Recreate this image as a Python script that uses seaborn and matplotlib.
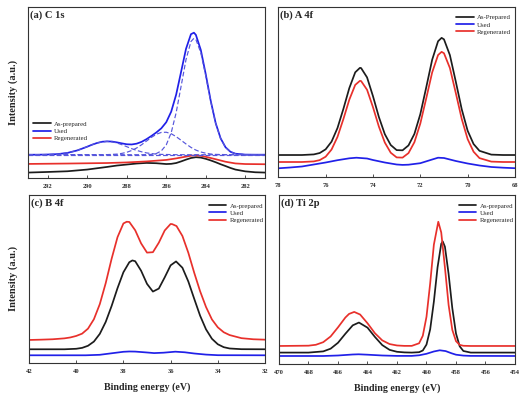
import matplotlib
matplotlib.use("Agg")
import matplotlib.pyplot as plt
import seaborn as sns

# ==========================================
# data (heights in a.u.)
# ==========================================
# (a) C 1s
c1s_x = [293, 292.5, 292, 291.5, 291, 290.5, 290, 289.75, 289.5, 289.25, 289, 288.75, 288.5,
         288.25, 288, 287.75, 287.5, 287.25, 287, 286.75, 286.5, 286.25, 286, 285.75, 285.5,
         285.25, 285, 284.75, 284.6, 284.5, 284.25, 284, 283.75, 283.5, 283.25, 283, 282.75,
         282.5, 282, 281.5, 281]
c1s_used = [23.5, 23.5, 23.7, 24.1, 25.3, 27.8, 31.5, 33.5, 35.2, 36.4, 36.8, 36.6, 35.8,
            34.8, 33.9, 33.7, 34.5, 36.3, 39.0, 42.2, 45.7, 49.8, 55.9, 66.4, 83.3,
            106.0, 129.0, 143.6, 145.1, 142.9, 127.8, 103.6, 77.3, 55.1, 39.9, 30.9, 26.4,
            24.5, 23.6, 23.5, 23.5]
c1s_fit_cc = [0, 0, 0, 0, 0, 0, 0, 0, 0, 0, 0, 0, 0, 0, 0, 0, 0, 0,
              0.1, 0.3, 1.2, 3.8, 9.8, 21.9, 41.8, 68.1, 94.8, 112.8, 116, 114.8, 101.6,
              78.6, 53.1, 31.3, 16.2, 7.3, 2.9, 1.0, 0.1, 0, 0]
c1s_fit_co = [0, 0, 0, 0, 0, 0, 0, 0, 0, 0.1, 0.1, 0.3, 0.6, 1.3, 2.4, 4.2, 6.7, 9.9, 13.6,
              17.3, 20.4, 22.2, 22.4, 20.9, 18.0, 14.4, 10.7, 7.3, 5.6, 4.6, 2.7, 1.5, 0.7,
              0.3, 0.2, 0.1, 0, 0, 0, 0, 0]
c1s_fit_oco = [0, 0, 0.2, 0.6, 1.8, 4.3, 8.0, 10.0, 11.7, 12.8, 13.2, 12.8, 11.7, 10.0, 8.0,
               6.0, 4.3, 2.9, 1.8, 1.1, 0.6, 0.3, 0.2, 0.1, 0, 0, 0, 0, 0, 0, 0, 0, 0, 0,
               0, 0, 0, 0, 0, 0, 0]
c1s_base_x = [293, 281]
c1s_base_y = [23.5, 23.5]

c1s_prep_x = [293, 292, 291, 290, 289.5, 289, 288.5, 288, 287.5, 287, 286.5, 286, 285.75,
              285.5, 285.25, 285, 284.75, 284.5, 284.25, 284, 283.75, 283.5, 283.25, 283,
              282.75, 282.5, 282, 281.5, 281]
c1s_prep = [5.7, 6.3, 7.0, 8.7, 10.0, 11.3, 12.7, 13.7, 14.7, 15.3, 15.0, 14.2, 14.4,
            15.2, 16.8, 18.6, 20.2, 21.0, 20.6, 19.4, 17.8, 16.0, 14.0, 12.2,
            10.3, 8.7, 6.9, 6.0, 5.7]
c1s_regen_x = [293, 291, 289, 288, 287, 286, 285.5, 285, 284.75, 284.5, 284.25, 284, 283.5,
               283, 282.5, 282, 281]
c1s_regen = [14.3, 14.7, 15.2, 15.8, 16.8, 18.3, 19.8, 21.6, 22.5, 22.8, 22.4, 21.4, 19.0,
             16.5, 14.8, 14.2, 14.0]

# (b) A 4f
a4f_x = [78, 77.5, 77, 76.5, 76.25, 76, 75.75, 75.5, 75.25, 75, 74.75, 74.55, 74.5, 74.25,
         74, 73.75, 73.5, 73.25, 73, 72.75, 72.5, 72.25, 72, 71.75, 71.5, 71.25, 71.1, 71,
         70.75, 70.5, 70.25, 70, 69.75, 69.5, 69, 68.5, 68]
a4f_prep = [22.5, 22.5, 22.5, 23.1, 24.5, 28.2, 35.9, 49.5, 68.7, 89.5, 105.3, 109.8, 109.5,
            100.2, 81.4, 60.5, 43.4, 32.5, 27.4, 27.2, 32.1, 43.6, 63.4, 90.2, 117.8, 136.4,
            139.8, 138.3, 122.5, 95.9, 68.3, 46.8, 33.5, 26.7, 22.9, 22.5, 22.5]
a4f_regen = [15.5, 15.5, 15.5, 16.1, 17.4, 20.8, 28.0, 40.6, 58.5, 77.9, 92.7, 96.8, 96.5,
             87.8, 70.4, 50.9, 35.0, 24.8, 20.1, 19.9, 24.4, 35.3, 54.0, 79.2, 105.1, 122.6,
             125.8, 124.4, 109.6, 84.5, 58.6, 38.4, 25.8, 19.4, 15.9, 15.5, 15.5]
a4f_used_x = [78, 77.5, 77, 76.5, 76, 75.5, 75, 74.7, 74.25, 74, 73.5, 73, 72.75, 72.5, 72,
              71.5, 71.25, 71, 70.5, 70, 69.5, 69, 68.5, 68]
a4f_used = [9.2, 10.0, 11.0, 13.0, 15.0, 17.3, 19.2, 19.8, 19.0, 17.5, 15.0, 13.0, 12.6, 12.8,
            14.3, 18.0, 19.8, 19.5, 16.5, 14.0, 12.0, 10.5, 9.8, 9.3]

# (c) B 4f
b4f_regen_x = [42, 41.5, 41, 40.5, 40.25, 40, 39.75, 39.5, 39.25, 39, 38.75, 38.5, 38.25, 38,
               37.86, 37.75, 37.5, 37.25, 37, 36.75, 36.5, 36.25, 36, 35.93, 35.75, 35.5,
               35.25, 35, 34.75, 34.5, 34.25, 34, 33.75, 33.5, 33, 32.5, 32]
b4f_regen = [23.3, 23.6, 24.0, 24.9, 25.8, 27.3, 29.6, 34.6, 44.0, 59.1, 80.0, 104.3, 125.9,
             139.6, 141.3, 141.1, 132.8, 119.7, 110.5, 110.9, 120.4, 132.6, 139.1, 138.9,
             137.0, 127.1, 110.4, 90.4, 71.9, 56.2, 43.8, 35.9, 31.0, 28.2, 25.1, 24.0, 23.6]
b4f_prep_x = [42, 41, 40.5, 40, 39.75, 39.5, 39.25, 39, 38.75, 38.5, 38.25, 38, 37.75, 37.62,
              37.5, 37.25, 37, 36.75, 36.5, 36.25, 36, 35.77, 35.5, 35.25, 35, 34.75, 34.5,
              34.25, 34, 33.75, 33.5, 33, 32]
b4f_prep = [14.0, 14.0, 14.0, 14.5, 15.4, 17.5, 21.7, 29.4, 41.3, 57.2, 75.0, 90.9, 100.9,
            102.7, 101.9, 92.4, 79.3, 71.6, 74.6, 85.8, 97.8, 101.7, 95.4, 81.7, 64.4, 47.5,
            33.9, 24.5, 19.0, 16.1, 14.8, 14.1, 14.0]
b4f_used_x = [42, 39.6, 39, 38.5, 38, 37.75, 37.5, 37, 36.7, 36.3, 35.8, 35.4, 35, 34.5, 34, 32]
b4f_used = [8.0, 8.0, 8.5, 10.0, 11.5, 11.8, 11.7, 10.8, 10.2, 10.6, 11.6, 11.0, 9.8, 8.7,
            8.1, 8.0]

# (d) Ti 2p
ti_prep_x = [470, 468, 467, 466.5, 466, 465.5, 465, 464.58, 464, 463.5, 463, 462.5, 462,
             461.5, 461, 460.5, 460.25, 460, 459.75, 459.5, 459.25, 459, 458.9, 458.75,
             458.5, 458.25, 458, 457.75, 457.5, 457, 456.5, 456, 454]
ti_prep = [11.7, 11.7, 12.9, 15.6, 21.5, 30.5, 38.9, 41.7, 36.6, 27.4, 19.2, 14.4, 12.5,
           11.9, 11.7, 12.1, 13.8, 19.7, 34.9, 62.5, 96.8, 120.3, 122.7, 117.4, 90.1, 56.1,
           30.8, 18.0, 13.3, 11.7, 11.7, 11.7, 11.7]
ti_regen_x = [470, 468, 467.5, 467, 466.5, 466, 465.5, 465.25, 464.9, 464.5, 464, 463.5, 463,
              462.5, 462, 461.5, 461, 460.5, 460.25, 460, 459.75, 459.5, 459.2, 459, 458.75,
              458.5, 458.25, 458, 457.75, 457.5, 457, 456, 454]
ti_regen = [18.3, 18.6, 19.5, 22.1, 27.8, 36.9, 46.7, 50.3, 52.3, 49.7, 41.0, 31.1, 23.9,
            20.2, 18.8, 18.4, 18.4, 21.0, 28.5, 47.4, 80.8, 119.4, 142.3, 131.6, 96.7, 59.2,
            34.4, 23.1, 19.4, 18.5, 18.3, 18.3, 18.3]
ti_used_x = [470, 467, 466, 465, 464.6, 464, 463, 462, 461, 460.5, 460, 459.5, 459.1, 458.7,
             458.3, 458, 457.5, 457, 454]
ti_used = [8.3, 8.3, 8.8, 9.8, 10.0, 9.6, 8.8, 8.4, 8.4, 9.0, 10.5, 12.8, 14.0, 13.2, 11.0,
           9.6, 8.7, 8.4, 8.3]

# ==========================================
# style
# ==========================================
sns.set_theme(style="ticks")
plt.rcParams['font.family'] = ['Liberation Serif', 'DejaVu Serif']
plt.rcParams['axes.edgecolor'] = '#333333'
plt.rcParams['axes.linewidth'] = 0.8

BLACK = '#1c1c1c'
BLUE = '#2020e8'
RED = '#e8302b'
DASH = '#5656dc'
LW = 1.25

fig = plt.figure(figsize=(5.29, 4.01), dpi=100)


def panel(rect, xlim, ticks, title):
    ax = fig.add_axes(rect)
    ax.set_xlim(*xlim)
    ax.set_xticks(ticks)
    ax.set_xticklabels([str(t) for t in ticks], fontsize=4.7, fontweight='bold')
    ax.tick_params(axis='x', direction='in', length=2.5, width=0.6, pad=4, colors='#333333')
    ax.tick_params(axis='y', left=False, labelleft=False)
    ax.text(0.008, 0.978, title, transform=ax.transAxes, ha='left', va='top',
            fontsize=7.6, fontweight='bold')
    return ax


def curve(ax, x, y, color, label=None, **kw):
    sns.lineplot(x=x, y=y, ax=ax, color=color, lw=kw.pop('lw', LW), label=label,
                 sort=False, estimator=None, **kw)


def legend(ax, anchor):
    ax.legend(loc='upper left', bbox_to_anchor=anchor, frameon=False, fontsize=4.9,
              handlelength=2.6, handletextpad=0.5, labelspacing=0.22, borderaxespad=0)


# (a) C 1s
ax = panel([0.0529, 0.5554, 0.4481, 0.4279], (293, 281), [292, 290, 288, 286, 284, 282],
           '(a) C 1s')
curve(ax, c1s_prep_x, c1s_prep, BLACK, 'As-prepared')
curve(ax, c1s_x, c1s_used, BLUE, 'Used')
curve(ax, c1s_regen_x, c1s_regen, RED, 'Regenerated')
base = c1s_base_y[0]
for comp in (c1s_fit_cc, c1s_fit_co, c1s_fit_oco):
    curve(ax, c1s_x, [base + v for v in comp], DASH, lw=0.85, linestyle=(0, (4, 2)))
curve(ax, c1s_base_x, c1s_base_y, DASH, lw=0.85, linestyle=(0, (4, 2)))
ax.set_ylim(0, 171)
legend(ax, (0.01, 0.35))

# (b) A 4f
ax = panel([0.5261, 0.5574, 0.4474, 0.4259], (78, 68), [78, 76, 74, 72, 70, 68], '(b) A 4f')
curve(ax, a4f_x, a4f_prep, BLACK, 'As-Prepared')
curve(ax, a4f_used_x, a4f_used, BLUE, 'Used')
curve(ax, a4f_x, a4f_regen, RED, 'Regenerated')
ax.set_ylim(0, 171)
legend(ax, (0.74, 0.97))

# (c) B 4f
ax = panel([0.0548, 0.094, 0.4462, 0.4197], (42, 32), [42, 40, 38, 36, 34, 32], '(c) B 4f')
curve(ax, b4f_prep_x, b4f_prep, BLACK, 'As-prepared')
curve(ax, b4f_used_x, b4f_used, BLUE, 'Used')
curve(ax, b4f_regen_x, b4f_regen, RED, 'Regenerated')
ax.set_ylim(0, 168)
ax.set_xlabel('Binding energy (eV)', fontsize=7.2, fontweight='bold', labelpad=6)
legend(ax, (0.75, 0.97))

# (d) Ti 2p
ax = panel([0.5274, 0.0915, 0.4461, 0.4222], (470, 454),
           [470, 468, 466, 464, 462, 460, 458, 456, 454], '(d) Ti 2p')
curve(ax, ti_prep_x, ti_prep, BLACK, 'As-prepared')
curve(ax, ti_used_x, ti_used, BLUE, 'Used')
curve(ax, ti_regen_x, ti_regen, RED, 'Regenerated')
ax.set_ylim(0, 169)
ax.set_xlabel('Binding energy (eV)', fontsize=7.2, fontweight='bold', labelpad=6)
legend(ax, (0.75, 0.97))

# shared y labels
for yc in (0.77, 0.305):
    fig.text(0.024, yc, 'Intensity (a.u.)', rotation=90, ha='center', va='center',
             fontsize=7.5, fontweight='bold')

fig.savefig('out.png', dpi=100)
